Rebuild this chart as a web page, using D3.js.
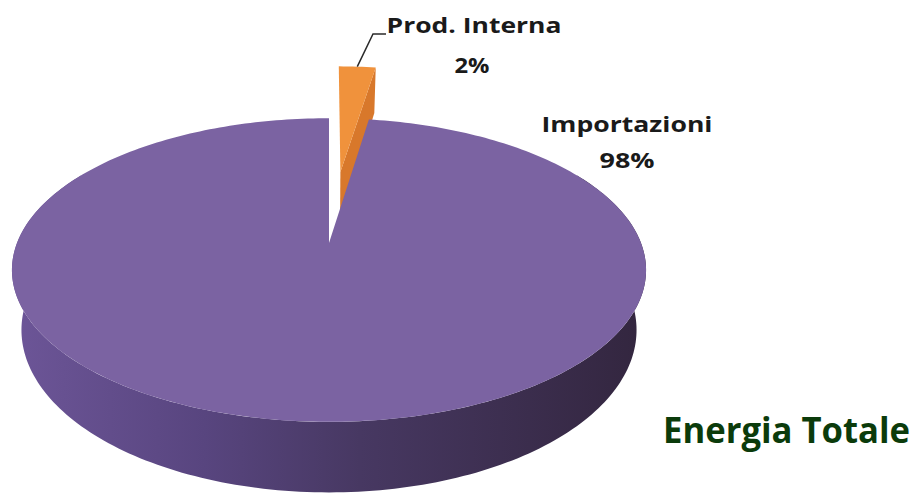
<!DOCTYPE html>
<html>
<head>
<meta charset="utf-8">
<script src="https://cdn.jsdelivr.net/npm/d3@7"></script>
<style>
  body { margin: 0; background: #fff; }
  svg { display: block; }
</style>
</head>
<body>
<svg id="chart" width="917" height="495"></svg>
<script>
// Data
var categories = ["Prod. Interna", "Importazioni"];
var values = [2.4, 97.6];
var exploded = [0.53, 0];
var title = "Energia Totale";

// Setup
var width = 917, height = 495;
var svg = d3.select("#chart");

// tilted disc, unit radius, z points toward the viewer
var cx = 329, cy = 243;
var rx = 312, ry = 147;
var persp = 0.178;
var depth = 58;

const xscale = d3.scaleLinear().domain([-1, 1]).range([cx - rx, cx + rx]);
const yscale = d3.scaleLinear().domain([-1, 1]).range([cy - ry, cy + ry]);

function project(x, z, bottom) {
  var w = 1 / (1 - persp * z);
  var shrink = bottom ? 0.97 : 1;
  return [xscale(x * w * shrink), yscale(z * w) + (bottom ? depth * w : 0)];
}

// point on the rim (r = 1) or centre (r = 0) of a slice
function rimPoint(d, angle, r, bottom) {
  return project(d.ox + r * Math.sin(angle), d.oz - r * Math.cos(angle), bottom);
}

function arcPoints(d, a0, a1, bottom) {
  var pts = [];
  var n = Math.max(2, Math.ceil(Math.abs(a1 - a0) / 0.02));
  for (var i = 0; i <= n; i++) {
    pts.push(rimPoint(d, a0 + (a1 - a0) * i / n, 1, bottom));
  }
  return pts;
}

var line = d3.line();

var pie = d3.pie().sort(null).value(d => d);
var slices = pie(values).map(function(d, i) {
  var mid = (d.startAngle + d.endAngle) / 2;
  d.name = categories[i];
  d.ox = exploded[i] * Math.sin(mid);
  d.oz = -exploded[i] * Math.cos(mid);
  return d;
});

// Colours
var topColor = ["#f0923c", "#7b63a2"];
var sideColor = ["#d8782b", "url(#wallGrad)"];

var defs = svg.append("defs");
var grad = defs.append("linearGradient")
  .attr("id", "wallGrad")
  .attr("gradientUnits", "userSpaceOnUse")
  .attr("x1", cx - rx).attr("x2", cx + rx)
  .attr("y1", 0).attr("y2", 0);
[["0", "#6c5597"], ["0.3", "#58457f"], ["0.55", "#473862"], ["1", "#33263f"]].forEach(function(s) {
  grad.append("stop").attr("offset", s[0]).attr("stop-color", s[1]);
});

// draw slices back to front: the exploded small slice first
slices.forEach(function(d, i) {
  var g = svg.append("g");

  // outer wall, front part only
  var w0 = Math.max(d.startAngle, Math.PI / 3);
  var w1 = Math.min(d.endAngle, 5 * Math.PI / 3);
  if (w1 > w0) {
    var wall = arcPoints(d, w0, w1, false).concat(arcPoints(d, w1, w0, true));
    g.append("path")
      .attr("d", line(wall) + "Z")
      .attr("fill", sideColor[i]);
  }

  // radial face at the end angle (faces the viewer on the right)
  if (d.endAngle < 2 * Math.PI - 0.001) {
    var face = [
      rimPoint(d, d.endAngle, 0, false),
      rimPoint(d, d.endAngle, 1, false),
      rimPoint(d, d.endAngle, 1, true),
      rimPoint(d, d.endAngle, 0, true)
    ];
    g.append("path")
      .attr("d", line(face) + "Z")
      .attr("fill", sideColor[i]);
  }

  // top face
  var top = [rimPoint(d, 0, 0, false)].concat(arcPoints(d, d.startAngle, d.endAngle, false));
  g.append("path")
    .attr("d", line(top) + "Z")
    .attr("fill", topColor[i]);
});

// Labels
var labelFont = "'Open Sans', sans-serif";

function addLabel(x, y, txt, len, size) {
  svg.append("text")
    .attr("x", x)
    .attr("y", y)
    .attr("text-anchor", "middle")
    .attr("textLength", len)
    .attr("lengthAdjust", "spacingAndGlyphs")
    .style("font-family", labelFont)
    .style("font-weight", "bold")
    .style("font-size", size + "px")
    .style("fill", "#1a1a1a")
    .text(txt);
}

function pct(v) {
  return Math.round(v / d3.sum(values) * 100) + "%";
}

// small slice: label above with a leader line
var small = slices[0];
var anchor = rimPoint(small, (small.startAngle + small.endAngle) / 2, 1, false);
svg.append("path")
  .attr("d", line([anchor, [373, 34], [386, 34]]))
  .attr("fill", "none")
  .attr("stroke", "#2a2a2a")
  .attr("stroke-width", 1.5);
addLabel(474, 33, small.name, 175, 21);
addLabel(472, 73, pct(small.value), 35, 21);

var big = slices[1];
addLabel(627, 132, big.name, 171, 21);
addLabel(627, 168, pct(big.value), 55, 21);

// Title
svg.append("text")
  .attr("x", 663)
  .attr("y", 443)
  .attr("textLength", 247)
  .attr("lengthAdjust", "spacingAndGlyphs")
  .style("font-family", labelFont)
  .style("font-weight", "bold")
  .style("font-size", "35px")
  .style("fill", "#0b3b0b")
  .text(title);
</script>
</body>
</html>
